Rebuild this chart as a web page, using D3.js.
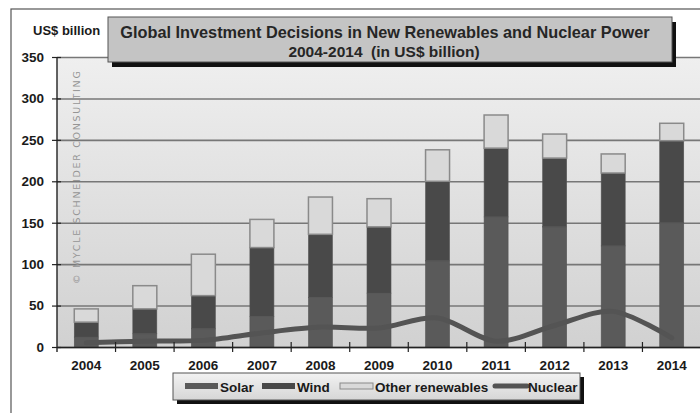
<!DOCTYPE html>
<html>
<head>
<meta charset="utf-8">
<script src="https://cdn.jsdelivr.net/npm/d3@7"></script>
<style>
  html, body { margin: 0; padding: 0; background: #fff; }
  svg { display: block; font-family: "Liberation Sans", Arial, sans-serif; }
</style>
</head>
<body>
<svg id="chart" width="700" height="413"></svg>
<script>
// data (US$ billion)
const years = ['2004', '2005', '2006', '2007', '2008', '2009', '2010', '2011', '2012', '2013', '2014'];
const solar = [12, 16, 22, 37, 60, 65, 104, 157, 145, 122, 150];
const wind = [18, 30, 40, 83, 76, 80, 96, 83, 83, 88, 99];
const otherRenewables = [16, 28, 50, 34, 45, 34, 38, 40, 29, 23, 21];
const nuclear = [5, 7, 8, 17, 24, 23, 35, 7, 26, 43, 11];
const yTicks = [0, 50, 100, 150, 200, 250, 300, 350];

const seriesNames = ['Solar', 'Wind', 'Other renewables'];
const seriesFill = { 'Solar': '#5a5a5a', 'Wind': '#494949', 'Other renewables': '#d9d9d9' };
const nuclearColor = '#545454';

const margin = { top: 57, left: 57 };
const plotW = 644;
const plotH = 290;

const svg = d3.select('#chart');
const defs = svg.append('defs');

const bgGrad = defs.append('linearGradient').attr('id', 'bgGrad')
    .attr('x1', 0).attr('y1', 0).attr('x2', 0).attr('y2', 1);
bgGrad.append('stop').attr('offset', '0%').attr('stop-color', '#efefef');
bgGrad.append('stop').attr('offset', '100%').attr('stop-color', '#d1d1d1');

const legGrad = defs.append('linearGradient').attr('id', 'legGrad')
    .attr('x1', 0).attr('y1', 0).attr('x2', 0).attr('y2', 1);
legGrad.append('stop').attr('offset', '0%').attr('stop-color', '#f2f2f2');
legGrad.append('stop').attr('offset', '100%').attr('stop-color', '#d6d6d6');

// outer frame
svg.append('rect')
    .attr('x', 11).attr('y', 9)
    .attr('width', 720).attr('height', 430)
    .attr('fill', 'none').attr('stroke', '#555').attr('stroke-width', 1.2);

const x = d3.scaleBand().domain(years).range([0, plotW]).paddingInner(0.59).paddingOuter(0.295);
const y = d3.scaleLinear().domain([0, 350]).range([plotH, 0]);

const g = svg.append('g').attr('transform', `translate(${margin.left},${margin.top})`);

g.append('rect').attr('width', plotW).attr('height', plotH).attr('fill', 'url(#bgGrad)');

// grid lines
g.append('g')
    .call(d3.axisLeft(y).tickValues(yTicks).tickSize(-plotW).tickFormat(''))
    .call(a => a.select('.domain').remove())
    .call(a => a.selectAll('line').attr('stroke', '#777').attr('stroke-width', 1.6));

// watermark
g.append('text')
    .attr('transform', `translate(22.5, ${plotH - 63}) rotate(-90)`)
    .attr('font-family', '"DejaVu Sans", sans-serif')
    .attr('font-size', 9.5)
    .attr('letter-spacing', 1.7)
    .attr('fill', '#959595')
    .text('\u00A9 MYCLE SCHNEIDER CONSULTING');

// stacked bars
const rows = years.map((yr, i) => ({
    year: yr,
    'Solar': solar[i],
    'Wind': wind[i],
    'Other renewables': otherRenewables[i]
}));
const stacked = d3.stack().keys(seriesNames)(rows);

g.append('g').selectAll('g')
    .data(stacked)
    .join('g')
    .attr('fill', d => seriesFill[d.key])
    .attr('stroke', d => d.key === 'Other renewables' ? '#8a8a8a' : '#555')
    .attr('stroke-width', d => d.key === 'Other renewables' ? 1.5 : 0.6)
    .selectAll('rect')
    .data(d => d)
    .join('rect')
    .attr('x', d => x(d.data.year))
    .attr('width', x.bandwidth())
    .attr('y', d => y(d[1]))
    .attr('height', d => y(d[0]) - y(d[1]));

// nuclear line
const line = d3.line()
    .x((d, i) => x(years[i]) + x.bandwidth() / 2)
    .y(d => y(d))
    .curve(d3.curveCardinal.tension(0.1));

g.append('path')
    .datum(nuclear)
    .attr('d', line)
    .attr('fill', 'none')
    .attr('stroke', nuclearColor)
    .attr('stroke-width', 5)
    .attr('stroke-linecap', 'round');

// y axis
const yAxis = g.append('g')
    .attr('transform', 'translate(4,0)')
    .call(d3.axisLeft(y).tickValues(yTicks).tickSize(9).tickPadding(8))
    .call(a => a.select('.domain').remove());
yAxis.selectAll('line').attr('stroke', '#222').attr('stroke-width', 1.2);
yAxis.selectAll('text')
    .attr('font-size', 13.5).attr('font-weight', 'bold').attr('fill', '#1a1a1a')
    .attr('font-family', '"Liberation Sans", Arial, sans-serif');

g.append('line')
    .attr('x1', 0).attr('x2', 0).attr('y1', 0).attr('y2', plotH + 5)
    .attr('stroke', '#222').attr('stroke-width', 1.4);

// x axis
const xAxis = g.append('g')
    .attr('transform', `translate(0,${plotH})`)
    .call(d3.axisBottom(x).tickSize(0).tickPadding(13))
    .call(a => a.select('.domain').attr('stroke', '#222').attr('stroke-width', 1.6));
xAxis.selectAll('text')
    .attr('font-size', 13.5).attr('font-weight', 'bold').attr('fill', '#1a1a1a')
    .attr('font-family', '"Liberation Sans", Arial, sans-serif');

const step = x.step();
g.append('g')
    .attr('transform', `translate(0,${plotH})`)
    .selectAll('line')
    .data(years.slice(1))
    .join('line')
    .attr('x1', d => x(d) - (step - x.bandwidth()) / 2)
    .attr('x2', d => x(d) - (step - x.bandwidth()) / 2)
    .attr('y1', -5).attr('y2', 5)
    .attr('stroke', '#222').attr('stroke-width', 1.2);

// y axis unit label
svg.append('text')
    .attr('x', 33).attr('y', 35)
    .attr('font-size', 13).attr('font-weight', 'bold').attr('fill', '#1a1a1a')
    .text('US$ billion');

// title box
const tb = { x: 108, y: 17, w: 564, h: 45 };
svg.append('rect')
    .attr('x', tb.x + 4).attr('y', tb.y + 5)
    .attr('width', tb.w).attr('height', tb.h)
    .attr('fill', '#111');
svg.append('rect')
    .attr('x', tb.x).attr('y', tb.y)
    .attr('width', tb.w).attr('height', tb.h)
    .attr('fill', '#c4c4c4').attr('stroke', '#555').attr('stroke-width', 1);
svg.append('text')
    .attr('x', tb.x + tb.w / 2 - 5).attr('y', tb.y + 21)
    .attr('text-anchor', 'middle')
    .attr('font-size', 16.3).attr('font-weight', 'bold').attr('fill', '#262626')
    .text('Global Investment Decisions in New Renewables and Nuclear Power');
svg.append('text')
    .attr('x', tb.x + tb.w / 2 - 6).attr('y', tb.y + 40)
    .attr('text-anchor', 'middle')
    .attr('font-size', 15.5).attr('font-weight', 'bold').attr('fill', '#262626')
    .style('white-space', 'pre')
    .text('2004-2014  (in US$ billion)');

// legend
const lg = svg.append('g').attr('transform', 'translate(173,373)');
lg.append('rect').attr('x', 4).attr('y', 4).attr('width', 407).attr('height', 27).attr('fill', '#111');
lg.append('rect').attr('width', 407).attr('height', 27)
    .attr('fill', 'url(#legGrad)').attr('stroke', '#555').attr('stroke-width', 1);

const legendItems = [
    { name: 'Solar', x: 12, kind: 'bar' },
    { name: 'Wind', x: 89, kind: 'bar' },
    { name: 'Other renewables', x: 167, kind: 'bar' },
    { name: 'Nuclear', x: 320, kind: 'line' }
];
const li = lg.selectAll('g.item').data(legendItems).join('g')
    .attr('class', 'item')
    .attr('transform', d => `translate(${d.x},0)`);
li.filter(d => d.kind === 'bar').append('rect')
    .attr('x', 0).attr('y', 10).attr('width', 33).attr('height', 6)
    .attr('fill', d => seriesFill[d.name])
    .attr('stroke', d => d.name === 'Other renewables' ? '#8a8a8a' : 'none');
li.filter(d => d.kind === 'line').append('line')
    .attr('x1', 2).attr('x2', 34).attr('y1', 13).attr('y2', 13)
    .attr('stroke', nuclearColor).attr('stroke-width', 5).attr('stroke-linecap', 'round');
li.append('text')
    .attr('x', 35).attr('y', 18.5)
    .attr('font-size', 13.5).attr('font-weight', 'bold').attr('fill', '#1a1a1a')
    .text(d => d.name);
</script>
</body>
</html>
